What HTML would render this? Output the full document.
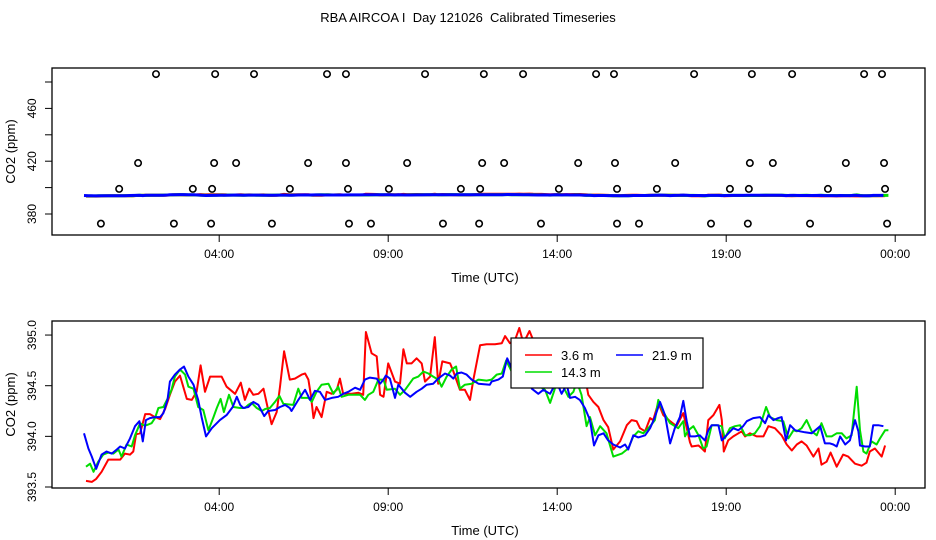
<!DOCTYPE html>
<html><head><meta charset="utf-8"><style>
html,body{margin:0;padding:0;background:#fff;}
svg{display:block;font-family:"Liberation Sans",sans-serif;}
</style></head><body>
<svg id="chart" width="936" height="540" viewBox="0 0 936 540" xmlns="http://www.w3.org/2000/svg">
<rect x="0" y="0" width="936" height="540" fill="#fff"/>
<text x="468" y="22" font-size="13" text-anchor="middle" style="white-space:pre" xml:space="preserve">RBA AIRCOA I  Day 121026  Calibrated Timeseries</text>
<g id="top"></g>
<g id="bot"></g>
</svg>
<script>
const xTickHours = [4, 9, 14, 19, 24];
const xTickLabels = ["04:00", "09:00", "14:00", "19:00", "00:00"];
const topYTicks = [380, 400, 420, 440, 460, 480];
const topYLabels = ["380", "", "420", "", "460", ""];
const botYTicks = [393.5, 394.0, 394.5, 395.0];
const botYLabels = ["393.5", "394.0", "394.5", "395.0"];

const calTimesA = [2.13,3.88,5.03,7.19,7.75,10.09,11.83,12.99,15.15,15.68,18.05,19.76,20.95,23.08,23.61];
const calValueA = 486;
const calTimesB = [1.60,3.85,4.50,6.63,7.75,9.56,11.78,12.43,14.62,15.71,17.49,19.70,20.38,22.54,23.67];
const calValueB = 418.6;
const calTimesC = [1.04,3.22,3.79,6.09,7.81,9.02,11.15,11.72,14.05,15.77,16.95,19.11,19.67,22.01,23.70];
const calValueC = 399;
const calTimesD = [0.50,2.66,3.76,5.56,7.84,8.49,10.62,11.69,13.52,15.77,16.42,18.55,19.64,21.48,23.76];
const calValueD = 372.7;

const redT = [0.06,0.23,0.36,0.52,0.72,0.87,1.07,1.21,1.36,1.46,1.54,1.66,1.81,1.95,2.10,2.25,2.40,2.54,2.69,2.84,3.04,3.19,3.33,3.45,3.58,3.73,4.07,4.22,4.47,4.64,4.76,4.89,5.01,5.16,5.31,5.45,5.55,5.70,5.80,5.92,6.09,6.24,6.44,6.54,6.64,6.71,6.79,6.88,7.03,7.18,7.33,7.48,7.57,7.67,7.77,7.92,8.12,8.26,8.34,8.51,8.66,8.76,8.86,9.00,9.20,9.35,9.45,9.55,9.69,9.84,9.99,10.09,10.24,10.38,10.48,10.60,10.83,10.93,11.12,11.27,11.42,11.52,11.72,11.91,12.16,12.36,12.46,12.60,12.75,12.88,13.00,13.18,13.29,13.41,13.54,13.69,13.79,13.94,14.03,14.13,14.33,14.53,14.67,14.82,14.92,15.07,15.22,15.37,15.51,15.66,15.86,16.06,16.20,16.35,16.45,16.60,16.75,16.84,16.99,17.14,17.34,17.53,17.73,17.93,17.98,18.18,18.28,18.37,18.47,18.62,18.80,18.87,18.93,19.06,19.21,19.36,19.46,19.56,19.70,19.90,20.10,20.25,20.44,20.64,20.79,20.94,21.09,21.23,21.38,21.58,21.73,21.82,21.97,22.09,22.27,22.46,22.61,22.81,23.01,23.15,23.25,23.40,23.60,23.70];
const redV = [393.56,393.55,393.58,393.65,393.77,393.77,393.77,393.83,393.82,393.85,394.02,394.03,394.22,394.22,394.19,394.17,394.27,394.41,394.54,394.60,394.37,394.36,394.44,394.70,394.44,394.59,394.59,394.49,394.42,394.53,394.36,394.47,394.41,394.42,394.47,394.26,394.12,394.24,394.49,394.84,394.56,394.57,394.61,394.62,394.56,394.41,394.18,394.29,394.19,394.44,394.42,394.46,394.57,394.42,394.42,394.42,394.43,394.41,395.03,394.82,394.79,394.41,394.39,394.72,394.54,394.52,394.86,394.72,394.72,394.77,394.72,394.54,394.59,394.98,394.52,394.74,394.72,394.64,394.46,394.46,394.36,394.56,394.90,394.91,394.91,394.92,394.99,394.92,394.95,395.07,394.92,395.04,394.95,394.82,394.88,394.72,394.64,394.69,394.80,394.70,394.72,394.79,394.75,394.59,394.41,394.34,394.29,394.16,394.09,393.87,393.95,394.11,394.16,394.15,394.08,394.05,394.18,394.16,394.33,394.21,394.15,394.10,394.23,393.94,393.90,393.91,393.88,393.85,394.16,394.21,394.31,394.16,393.85,393.96,394.00,394.03,394.05,394.00,394.03,394.00,394.00,394.10,394.08,394.01,393.92,393.86,393.92,393.95,393.91,393.80,393.88,393.72,393.75,393.84,393.70,393.82,393.80,393.73,393.71,393.74,393.85,393.88,393.80,393.91];

const greenT = [0.06,0.18,0.28,0.42,0.57,0.72,0.87,1.02,1.11,1.26,1.41,1.51,1.66,1.76,1.85,2.00,2.10,2.20,2.35,2.50,2.59,2.69,2.84,2.99,3.09,3.24,3.38,3.53,3.68,3.83,3.93,4.04,4.14,4.29,4.42,4.62,4.76,4.86,4.96,5.11,5.26,5.36,5.50,5.65,5.78,5.90,6.19,6.34,6.44,6.64,6.74,6.88,7.03,7.23,7.38,7.52,7.62,7.82,8.17,8.31,8.41,8.56,8.71,8.86,8.96,9.20,9.35,9.50,9.74,9.89,10.04,10.19,10.33,10.48,10.58,10.73,10.88,11.01,11.12,11.27,11.47,11.67,11.91,12.06,12.21,12.36,12.49,12.65,12.75,12.85,12.95,13.10,13.20,13.34,13.49,13.64,13.79,13.91,14.06,14.18,14.33,14.48,14.58,14.72,14.87,14.97,15.12,15.27,15.46,15.66,15.91,16.10,16.25,16.40,16.55,16.75,16.89,16.99,17.14,17.34,17.58,17.73,17.78,17.88,18.03,18.18,18.32,18.42,18.57,18.72,18.87,18.96,19.11,19.26,19.41,19.56,19.70,19.85,20.00,20.18,20.30,20.49,20.69,20.84,20.99,21.09,21.23,21.38,21.53,21.68,21.82,21.97,22.12,22.27,22.42,22.56,22.71,22.86,22.96,23.06,23.15,23.30,23.45,23.55,23.70,23.80];
const greenV = [393.70,393.73,393.65,393.75,393.82,393.84,393.83,393.87,393.80,393.92,393.90,394.01,394.13,394.11,394.11,394.13,394.18,394.28,394.29,394.39,394.46,394.59,394.66,394.61,394.49,394.47,394.29,394.26,394.06,394.19,394.28,394.37,394.24,394.41,394.29,394.28,394.28,394.31,394.33,394.28,394.25,394.27,394.28,394.34,394.40,394.32,394.31,394.47,394.38,394.38,394.34,394.44,394.51,394.52,394.42,394.49,394.39,394.41,394.41,394.36,394.41,394.44,394.56,394.56,394.46,394.47,394.41,394.46,394.57,394.59,394.64,394.62,394.59,394.56,394.49,394.59,394.66,394.69,394.47,394.51,394.52,394.56,394.55,394.56,394.61,394.62,394.75,394.64,394.61,394.62,394.52,394.59,394.56,394.59,394.49,394.46,394.33,394.45,394.62,394.49,394.39,394.44,394.54,394.41,394.10,394.19,394.01,394.10,394.03,393.80,393.83,393.88,394.00,394.05,394.03,394.10,394.16,394.36,394.24,394.13,394.08,394.15,394.00,394.06,394.10,394.01,393.88,393.90,394.11,394.11,394.10,393.98,394.08,394.10,394.11,394.01,394.01,394.03,394.10,394.29,394.19,394.16,394.15,393.98,394.06,394.05,394.08,394.16,394.05,394.01,394.13,394.00,394.00,394.03,394.03,393.98,394.01,394.49,394.06,393.85,393.83,393.95,393.92,393.98,394.06,394.06];

const blueT = [0.00,0.13,0.23,0.36,0.52,0.67,0.82,0.97,1.07,1.21,1.36,1.51,1.64,1.74,1.83,1.95,2.10,2.25,2.35,2.47,2.54,2.69,2.84,2.96,3.09,3.24,3.38,3.48,3.61,3.78,4.02,4.22,4.40,4.52,4.62,4.71,4.86,5.01,5.16,5.33,5.45,5.65,5.80,5.95,6.09,6.14,6.34,6.54,6.69,6.83,6.98,7.13,7.33,7.52,7.67,7.82,8.02,8.17,8.31,8.46,8.66,8.76,8.86,8.93,9.05,9.20,9.30,9.40,9.50,9.65,9.84,9.99,10.14,10.33,10.48,10.68,10.83,10.93,11.03,11.17,11.32,11.47,11.67,12.01,12.06,12.26,12.39,12.52,12.65,12.80,13.00,13.15,13.25,13.44,13.59,13.79,13.98,14.13,14.28,14.38,14.53,14.67,14.82,14.97,15.09,15.22,15.37,15.51,15.66,15.86,16.01,16.10,16.25,16.40,16.60,16.75,16.89,17.04,17.19,17.34,17.48,17.63,17.73,17.83,17.93,18.08,18.22,18.37,18.47,18.57,18.77,18.87,19.01,19.21,19.36,19.50,19.61,19.80,20.00,20.15,20.25,20.40,20.54,20.64,20.77,20.89,21.04,21.18,21.33,21.53,21.78,21.92,22.07,22.17,22.27,22.37,22.52,22.66,22.81,22.91,22.96,23.11,23.25,23.35,23.50,23.65];
const blueV = [394.03,393.88,393.80,393.68,393.82,393.85,393.83,393.87,393.90,393.88,393.98,394.10,394.15,393.95,394.16,394.18,394.19,394.19,394.23,394.36,394.54,394.61,394.66,394.69,394.59,394.51,394.36,394.19,394.00,394.08,394.16,394.21,394.29,394.39,394.31,394.28,394.29,394.34,394.31,394.20,394.25,394.26,394.29,394.31,394.28,394.25,394.36,394.46,394.36,394.45,394.44,394.36,394.38,394.39,394.42,394.44,394.48,394.46,394.56,394.58,394.57,394.52,394.56,394.60,394.57,394.38,394.51,394.47,394.43,394.39,394.44,394.47,394.51,394.52,394.57,394.62,394.60,394.57,394.62,394.63,394.61,394.56,394.52,394.51,394.54,394.56,394.59,394.77,394.67,394.66,394.59,394.56,394.47,394.42,394.46,394.42,394.54,394.42,394.51,394.38,394.39,394.36,394.28,394.16,393.91,394.01,394.03,393.96,393.92,393.89,393.92,393.87,394.01,393.99,394.01,394.08,394.19,394.34,394.21,393.93,394.08,394.19,394.35,394.15,394.00,394.00,394.01,393.96,394.06,394.11,394.11,393.96,394.01,394.08,394.06,394.10,394.15,394.18,394.19,394.13,394.21,394.16,394.18,394.19,393.96,394.11,394.06,394.05,394.04,394.03,394.10,393.93,393.93,393.92,393.90,394.00,393.92,393.96,394.16,394.05,393.91,393.90,393.90,394.11,394.11,394.10];

const NS = "http://www.w3.org/2000/svg";
function mk(tag, attrs, parent){ const e=document.createElementNS(NS,tag); for(const k in attrs) e.setAttribute(k,attrs[k]); parent.appendChild(e); return e; }
function xScale(h){ return 84 + h*33.8; }

function drawPanel(g, box, yScale, yTicks, yLabels, withCircles){
  const frame = mk("rect",{x:box.l,y:box.t,width:box.r-box.l,height:box.b-box.t,fill:"none",stroke:"#000","stroke-width":1.3},g);
  
  
  xTickHours.forEach((h,i)=>{
    const x=xScale(h);
    const t=mk("line",{x1:x,y1:box.b,x2:x,y2:box.b+7,stroke:"#000","stroke-width":1},g);
    
    
    const lb=mk("text",{x:x,y:box.b+23,"font-size":12,"text-anchor":"middle"},g);
    
    
    lb.textContent=xTickLabels[i];
  });
  yTicks.forEach((v,i)=>{
    const y=yScale(v);
    const t=mk("line",{x1:box.l-7,y1:y,x2:box.l,y2:y,stroke:"#000","stroke-width":1},g);
    
    
    if(yLabels[i]){
      const lb=mk("text",{x:0,y:0,"font-size":12,"text-anchor":"middle",transform:`translate(${box.l-16},${y}) rotate(-90)`},g);
      
      
      lb.textContent=yLabels[i];
    }
  });
  const xt=mk("text",{x:485,y:box.b+47,"font-size":13,"text-anchor":"middle"},g);
  
  
  xt.textContent="Time (UTC)";
  const yt=mk("text",{x:0,y:0,"font-size":13,"text-anchor":"middle",transform:`translate(15,${(box.t+box.b)/2}) rotate(-90)`},g);
  
  
  yt.textContent="CO2 (ppm)";
  const series=[[redT,redV,"#ff0000","series-3-6m"],[greenT,greenV,"#00dd00","series-14-3m"],[blueT,blueV,"#0000ff","series-21-9m"]];
  series.forEach(s=>{
    const d=s[0].map((h,i)=>(i?"L":"M")+xScale(h).toFixed(1)+","+yScale(s[1][i]).toFixed(1)).join(" ");
    const p=mk("path",{d:d,fill:"none",stroke:s[2],"stroke-width":withCircles?3:2,"stroke-linejoin":"round"},g);
    
    
  });
  if(withCircles){
    [[calTimesA,calValueA],[calTimesB,calValueB],[calTimesC,calValueC],[calTimesD,calValueD]].forEach(c=>{
      c[0].forEach(h=>{
        const cc=mk("circle",{cx:xScale(h),cy:yScale(c[1]),r:3.2,fill:"none",stroke:"#000","stroke-width":1.6},g);
        
        
      });
    });
  }
}

const topBox={l:52,r:925,t:68,b:235};
drawPanel(document.getElementById("top"),topBox,v=>214-(v-380)*1.32,topYTicks,topYLabels,true);
const botBox={l:52,r:925,t:321,b:488};
drawPanel(document.getElementById("bot"),botBox,v=>487-(v-393.5)*101.3,botYTicks,botYLabels,false);

const bot=document.getElementById("bot");
const lg=mk("g",{},bot);


mk("rect",{x:511,y:338,width:192,height:50,fill:"#fff",stroke:"#000","stroke-width":1.2},lg);
const entries=[[525,355,"#ff0000","3.6 m","legend-entry-3-6m"],[616,355,"#0000ff","21.9 m","legend-entry-21-9m"],[525,372,"#00dd00","14.3 m","legend-entry-14-3m"]];
entries.forEach(e=>{
  const eg=mk("g",{},lg);
  
  
  mk("line",{x1:e[0],y1:e[1],x2:e[0]+27,y2:e[1],stroke:e[2],"stroke-width":1.5},eg);
  const t=mk("text",{x:e[0]+36,y:e[1]+5,"font-size":13},eg);
  t.textContent=e[3];
});
</script>
</body></html>
